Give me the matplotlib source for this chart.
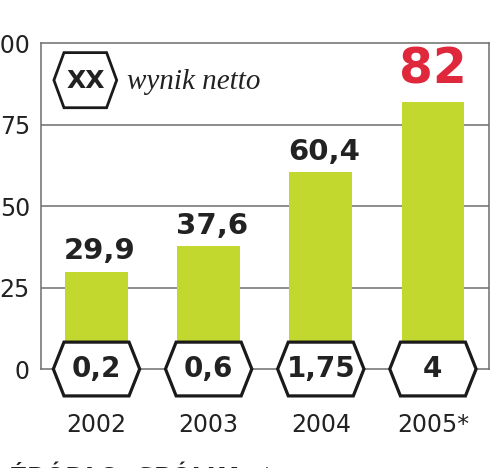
import matplotlib.pyplot as plt
from matplotlib.patches import Polygon

# data
years = ['2002', '2003', '2004', '2005*']
revenue = [29.9, 37.6, 60.4, 82]
revenue_labels = ['29,9', '37,6', '60,4', '82']
net_profit = ['0,2', '0,6', '1,75', '4']
yticks = [0, 25, 50, 75, 100]

bar_color = '#c3d82e'
red = '#e0283c'
dark = '#222222'
grid_color = '#6e6e6e'


def hexagon(ax, cx, cy, w, h, inset, lw=2.0, z=5):
    pts = [(cx - w / 2, cy), (cx - w / 2 + inset, cy + h / 2),
           (cx + w / 2 - inset, cy + h / 2), (cx + w / 2, cy),
           (cx + w / 2 - inset, cy - h / 2), (cx - w / 2 + inset, cy - h / 2)]
    p = Polygon(pts, closed=True, facecolor='white', edgecolor='#1a1a1a',
                linewidth=lw, zorder=z, clip_on=False, joinstyle='miter')
    ax.add_patch(p)


fig = plt.figure(figsize=(5, 4.68), dpi=100)
ax = fig.add_axes([0.082, 0.2115, 0.896, 0.6966])

x = list(range(len(years)))
ax.bar(x, revenue, width=0.56, color=bar_color, zorder=2)

ax.set_xlim(-0.495, 3.5)
ax.set_ylim(0, 100)

# gridlines
for t in yticks[1:-1]:
    ax.axhline(t, color=grid_color, linewidth=1.1, zorder=1)

for s in ax.spines.values():
    s.set_color(grid_color)
    s.set_linewidth(1.1)

ax.set_xticks([])
ax.set_yticks(yticks)
ax.set_yticklabels([str(t) for t in yticks], fontsize=17, color=dark)
ax.tick_params(axis='y', length=0, pad=8)

# value labels above the bars
for i, (v, lab) in enumerate(zip(revenue, revenue_labels)):
    if i == len(revenue) - 1:
        ax.text(i, v + 2.5, lab, ha='center', va='bottom', fontsize=35,
                fontweight='bold', color=red)
    else:
        ax.text(i + 0.03, v + 2, lab, ha='center', va='bottom', fontsize=21,
                fontweight='bold', color=dark)

# hexagons with net profit on the baseline
for i, lab in enumerate(net_profit):
    hexagon(ax, i, 0, 0.77, 16.5, 0.095, lw=2.3)
    ax.text(i, 0, lab, ha='center', va='center', fontsize=20,
            fontweight='bold', color=dark, zorder=6)
    ax.text(i, -17.3, years[i], ha='center', va='center', fontsize=17,
            color=dark, clip_on=False)

# legend
hexagon(ax, -0.1, 88.6, 0.56, 16.9, 0.09, lw=2.0)
ax.text(-0.1, 88.4, 'XX', ha='center', va='center', fontsize=18,
        fontweight='bold', color=dark, zorder=6)
ax.text(0.27, 88.0, 'wynik netto', ha='left', va='center', fontsize=21,
        fontstyle='italic', family='Liberation Serif', color=dark)

# source line (cut off at the bottom)
fig.text(0.02, 0.004, 'ŹRÓDŁO: SPÓŁKA', ha='left', va='top', fontsize=17,
         fontweight='bold', color=dark)
fig.text(0.52, 0.004, '*', ha='left', va='top', fontsize=17, color=dark)

fig.savefig('out.png', dpi=100)
